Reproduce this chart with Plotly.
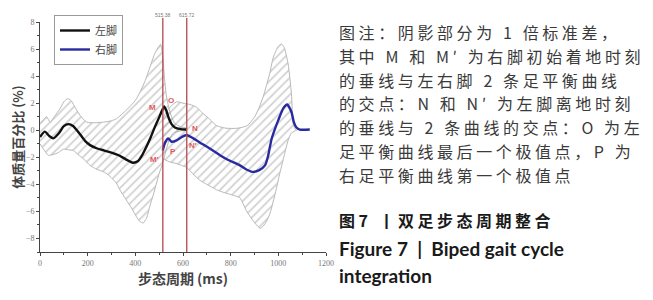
import plotly.graph_objects as go

# ---------------- data ----------------
left_ms = [0, 20, 40, 56, 80, 100, 119, 140, 168, 190, 210, 240, 270, 300, 330, 360, 390, 410, 430, 447,
           465, 482, 500, 512, 521, 530, 540, 552, 566, 590, 615]
left_val = [-0.5, -0.1, -0.45, -0.6, -0.2, 0.3, 0.45, 0.3, -0.3, -0.8, -1.1, -1.35, -1.5, -1.65, -1.85,
            -2.15, -2.4, -2.3, -1.8, -1.2, -0.5, 0.25, 0.95, 1.45, 1.75, 1.45, 0.9, 0.45, 0.2, 0.08, 0.05]

right_ms = [515, 525, 538, 552, 573, 595, 615, 643, 670, 699, 730, 755, 790, 839, 866, 895, 920, 944,
            957, 971, 990, 1000, 1020, 1037, 1055, 1065, 1076, 1090, 1132]
right_val = [-1.5, -0.9, -0.6, -0.85, -0.75, -0.5, -0.35, -0.6, -0.9, -1.2, -1.55, -1.85, -2.2, -2.6,
             -2.9, -3.08, -2.95, -2.6, -1.9, -0.7, 0.3, 0.75, 1.6, 1.9, 1.35, 0.6, 0.2, 0.05, 0.05]

left_up_ms = [0, 15, 28, 42, 60, 84, 100, 115, 130, 150, 168, 196, 230, 266, 300, 321, 363, 400, 419,
              440, 461, 480, 495, 506, 515, 522, 530, 540, 552, 566, 590, 615]
left_up_val = [0.5, 0.8, 1.0, 0.6, 1.0, 1.6, 2.1, 2.33, 2.2, 1.6, 1.1, 0.6, 0.55, 0.6, 0.7, 0.85, 1.5,
               2.2, 2.8, 3.6, 4.65, 5.6, 6.1, 6.35, 5.5, 3.9, 2.6, 1.7, 1.0, 0.5, 0.25, 0.15]
left_lo_ms = [0, 15, 35, 55, 77, 98, 120, 140, 160, 182, 210, 240, 270, 293, 320, 335, 360, 384, 405,
              419, 433, 447, 461, 475, 489, 500, 510, 520, 530, 545, 560, 590, 615]
left_lo_val = [-1.0, -1.4, -1.85, -1.8, -1.65, -1.4, -1.45, -1.5, -1.8, -2.1, -2.6, -2.9, -3.1, -3.4,
               -3.9, -4.4, -5.1, -5.75, -6.4, -6.75, -6.85, -6.5, -5.6, -4.8, -3.9, -3.2, -2.7, -2.1,
               -1.4, -0.6, -0.2, -0.05, 0.0]

right_up_ms = [515, 540, 573, 600, 630, 657, 680, 713, 740, 780, 830, 870, 901, 920, 936, 950, 964,
               979, 1000, 1013, 1025, 1041, 1055, 1062, 1070, 1077]
right_up_val = [0.9, 1.6, 2.1, 2.0, 1.9, 1.7, 1.3, 0.8, 0.35, 0.15, 0.15, 0.35, 1.0, 1.7, 2.45, 3.3,
                4.2, 5.4, 6.2, 6.37, 6.1, 4.9, 2.7, 0.5, 0.1, 0.0]
right_lo_ms = [515, 545, 570, 594, 615, 640, 671, 700, 741, 780, 810, 839, 866, 901, 925, 945, 964,
               978, 992, 1006, 1020, 1027, 1041, 1055, 1070, 1077]
right_lo_val = [-2.1, -2.35, -2.45, -2.6, -2.75, -3.2, -3.7, -4.0, -4.4, -4.65, -4.8, -5.0, -5.95,
                -6.85, -7.25, -6.9, -6.2, -5.3, -4.3, -3.2, -2.2, -1.7, -0.75, -0.2, -0.05, 0.0]

event_ms = [515.38, 615.72]
event_labels = ["515.38", "615.72"]

point_names = ["M", "O", "N", "N′", "M′", "P"]
point_ms = [474, 549, 650, 642, 482, 558]
point_val = [1.7, 2.2, 0.15, -1.1, -2.15, -1.6]

series_names = ["左脚", "右脚"]

x_ticks = [0, 200, 400, 600, 800, 1000, 1200]
y_ticks = [8, 6, 4, 2, 0, -2, -4, -6, -8]

caption_lines = [
    "图注：阴影部分为 1 倍标准差，",
    "其中 M 和 M′ 为右脚初始着地时刻",
    "的垂线与左右脚 2 条足平衡曲线",
    "的交点：N 和 N′ 为左脚离地时刻",
    "的垂线与 2 条曲线的交点：O 为左",
    "足平衡曲线最后一个极值点，P 为",
    "右足平衡曲线第一个极值点",
]
title_cn = "图7 丨双足步态周期整合"
title_en = ["Figure 7  |  Biped gait cycle", "integration"]

# ---------------- geometry (page body has an 8px margin) ----------------
OFF = 8
W, H = 653 - OFF, 300 - OFF
L, T = 40 - OFF, 22 - OFF
PW, PH = 286, 230
R, B = W - L - PW, H - T - PH


def px_x(px):
    return (px - OFF - L) / PW


def px_y(py):
    return (T + PH - (py - OFF)) / PH


fig = go.Figure()

hatch = dict(shape="/", fgcolor="#a2a2a2", bgcolor="rgba(255,255,255,0)", size=6, solidity=0.28)
for ums, uval, lms, lval in [(left_up_ms, left_up_val, left_lo_ms, left_lo_val),
                              (right_up_ms, right_up_val, right_lo_ms, right_lo_val)]:
    fig.add_trace(go.Scatter(
        x=ums + lms[::-1], y=uval + lval[::-1], mode="lines", fill="toself",
        fillcolor="rgba(255,255,255,0)", fillpattern=hatch,
        line=dict(color="#b8b8b8", width=1, shape="spline", smoothing=0.6),
        showlegend=False, hoverinfo="skip"))

fig.add_trace(go.Scatter(x=left_ms, y=left_val, mode="lines", name=series_names[0],
                         line=dict(color="#111111", width=2.4, shape="spline", smoothing=0.6)))
fig.add_trace(go.Scatter(x=right_ms, y=right_val, mode="lines", name=series_names[1],
                         line=dict(color="#2a2aa0", width=2.4, shape="spline", smoothing=0.6)))

for xm, lab in zip(event_ms, event_labels):
    fig.add_shape(type="line", xref="x", yref="paper", x0=xm, x1=xm, y0=0, y1=px_y(18),
                  line=dict(color="#b5474c", width=1.3), layer="above")
    fig.add_annotation(x=xm, xref="x", y=px_y(15), yref="paper", text=lab, showarrow=False,
                       font=dict(size=5, color="#777777", family="Liberation Sans"),
                       xanchor="center", yanchor="middle")

for nm, xm, yv in zip(point_names, point_ms, point_val):
    fig.add_annotation(x=xm, y=yv, text=f"<b>{nm}</b>", showarrow=False,
                       font=dict(size=8, color="#e0585a", family="Liberation Sans"),
                       xanchor="center", yanchor="middle")

cap_x = px_x(337)
cap_y = [32, 56, 80, 103, 127, 151, 175]
for ln, yy in zip(caption_lines, cap_y):
    fig.add_annotation(x=cap_x, y=px_y(yy), xref="paper", yref="paper",
                       text=f"<span style='letter-spacing:3.6px'>{ln}</span>", showarrow=False,
                       font=dict(size=16, color="#3a3a3a", family="Noto Sans CJK SC"),
                       xanchor="left", yanchor="middle")
fig.add_annotation(x=cap_x, y=px_y(220), xref="paper", yref="paper",
                   text=f"<span style='letter-spacing:3.5px'><b>{title_cn}</b></span>",
                   showarrow=False, font=dict(size=16, color="#1a1a1a", family="Noto Sans CJK SC"),
                   xanchor="left", yanchor="middle")
for ln, yy in zip(title_en, [248, 275]):
    fig.add_annotation(x=cap_x, y=px_y(yy), xref="paper", yref="paper", text=f"<b>{ln}</b>",
                       showarrow=False, font=dict(size=19, color="#1a1a1a", family="Lato"),
                       xanchor="left", yanchor="middle")

fig.update_layout(
    width=W, height=H, margin=dict(l=L, r=R, t=T, b=B, autoexpand=False),
    paper_bgcolor="white", plot_bgcolor="white",
    legend=dict(x=px_x(54), y=px_y(15), xanchor="left", yanchor="top",
                bordercolor="#9a9a9a", borderwidth=1, bgcolor="white",
                font=dict(size=11, color="#444444", family="Noto Sans CJK SC"),
                tracegroupgap=0, itemwidth=30),
    xaxis=dict(range=[0, 1200], tickvals=x_ticks, ticks="outside", ticklen=3, tickwidth=1,
               tickcolor="#444", showline=True, linecolor="#444", linewidth=1, showgrid=False,
               zeroline=False, tickfont=dict(size=8, color="#777777", family="Liberation Serif"),
               minor=dict(dtick=100, ticks="outside", ticklen=2, tickcolor="#444"),
               title=dict(text="<b>步态周期 (ms)</b>", standoff=2,
                          font=dict(size=14, color="#444444", family="Noto Sans CJK SC"))),
    yaxis=dict(range=[-9, 8], tickvals=y_ticks, ticks="outside", ticklen=3, tickwidth=1,
               tickcolor="#444", showline=True, linecolor="#444", linewidth=1, showgrid=False,
               zeroline=False, tickfont=dict(size=8, color="#777777", family="Liberation Serif"),
               minor=dict(dtick=1, ticks="outside", ticklen=2, tickcolor="#444"),
               title=dict(text="<b>体质量百分比 (%)</b>", standoff=4,
                          font=dict(size=13, color="#444444", family="Noto Sans CJK SC"))),
)

fig.write_html("out.html")
